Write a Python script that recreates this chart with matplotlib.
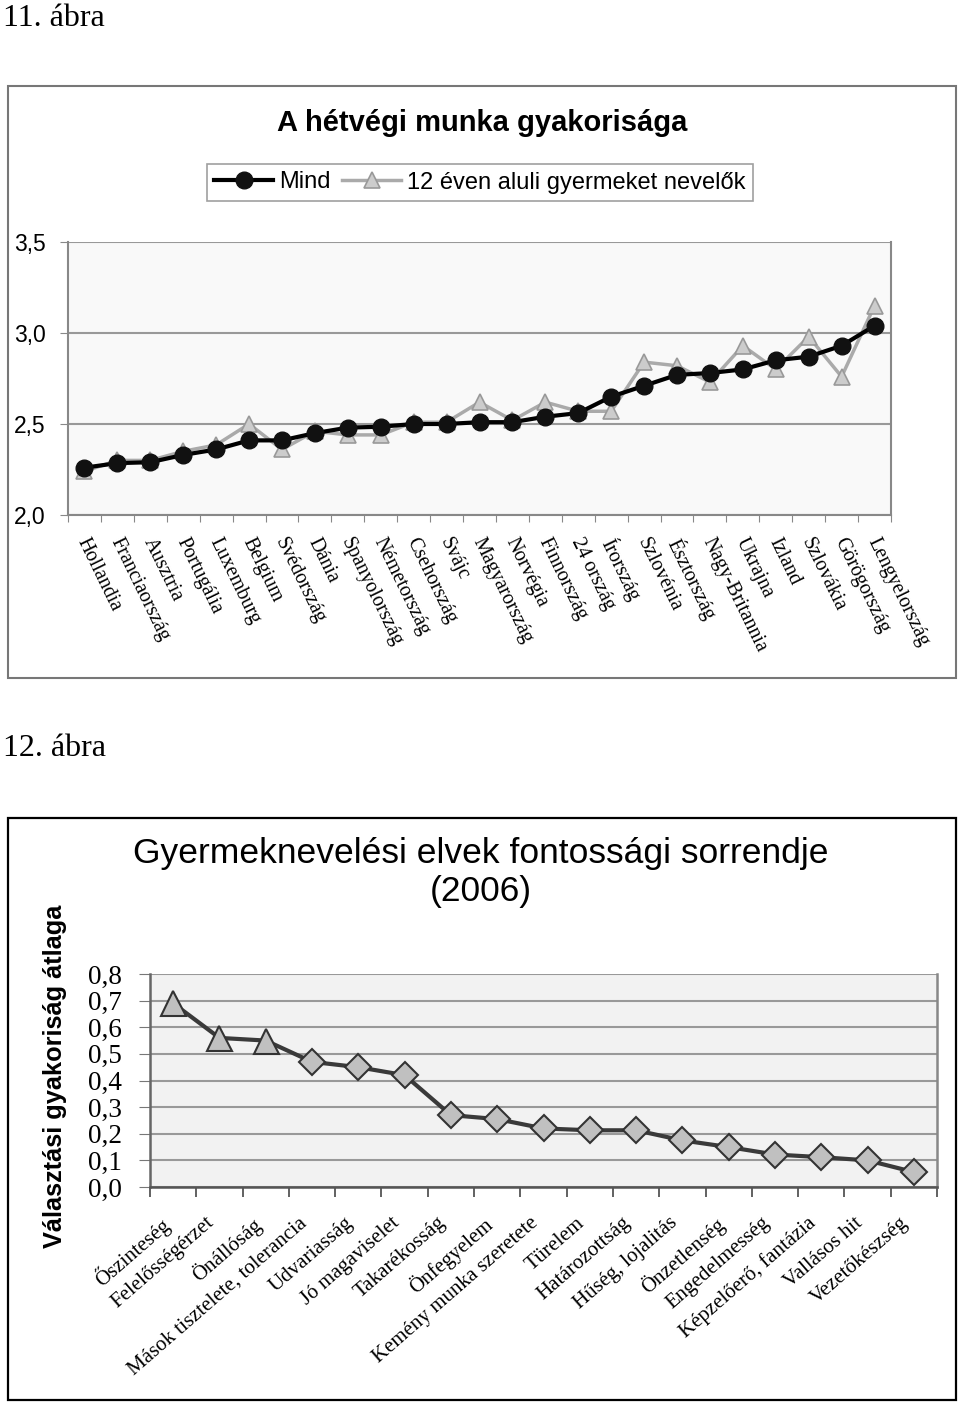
import numpy as np
import matplotlib.pyplot as plt
from matplotlib.patches import Rectangle
from matplotlib.ticker import FuncFormatter
from matplotlib.transforms import ScaledTranslation

# --- 11. ábra adatai ---
orszagok = ['Hollandia', 'Franciaország', 'Ausztria', 'Portugália', 'Luxemburg',
            'Belgium', 'Svédország', 'Dánia', 'Spanyolország', 'Németország',
            'Csehország', 'Svájc', 'Magyarország', 'Norvégia', 'Finnország',
            '24 ország', 'Írország', 'Szlovénia', 'Észtország', 'Nagy-Britannia',
            'Ukrajna', 'Izland', 'Szlovákia', 'Görögország', 'Lengyelország']
mind = [2.26, 2.285, 2.29, 2.33, 2.36, 2.41, 2.41, 2.45, 2.48, 2.485,
        2.50, 2.50, 2.51, 2.51, 2.54, 2.56, 2.65, 2.71, 2.77, 2.78,
        2.80, 2.85, 2.87, 2.93, 3.04]
gyerekes = [2.24, 2.30, 2.30, 2.35, 2.385, 2.50, 2.36, 2.46, 2.44, 2.44,
            2.51, 2.51, 2.62, 2.52, 2.62, 2.57, 2.57, 2.84, 2.82, 2.73,
            2.93, 2.80, 2.98, 2.76, 3.15]

# --- 12. ábra adatai ---
elvek = ['Őszinteség', 'Felelősségérzet', 'Önállóság', 'Mások tisztelete, tolerancia',
         'Udvariasság', 'Jó magaviselet', 'Takarékosság', 'Önfegyelem',
         'Kemény munka szeretete', 'Türelem', 'Határozottság', 'Hűség, lojalitás',
         'Önzetlenség', 'Engedelmesség', 'Képzelőerő, fantázia', 'Vallásos hit',
         'Vezetőkészség']
atlag = [0.69, 0.56, 0.55, 0.47, 0.45, 0.42, 0.27, 0.255, 0.22, 0.213,
         0.213, 0.175, 0.15, 0.122, 0.112, 0.10, 0.056]
n_haromszog = 3  # az első három pont háromszög jelölővel

W, H = 960, 1403
fig = plt.figure(figsize=(W / 100, H / 100), dpi=100)
serif = ['Liberation Serif', 'DejaVu Serif']
sans = ['Liberation Sans', 'DejaVu Sans']

def fx(px):
    return px / W

def fy(py):
    return 1 - py / H

comma = FuncFormatter(lambda v, p: f'{v:.1f}'.replace('.', ','))

# fejlécek
fig.text(fx(3), fy(18), '11. ábra', family=serif, fontsize=23, va='center', ha='left')
fig.text(fx(3), fy(748), '12. ábra', family=serif, fontsize=23, va='center', ha='left')

# keretek
fig.add_artist(Rectangle((fx(8), fy(678)), fx(948), (678 - 86) / H,
                         transform=fig.transFigure, fill=False, ec='#777777', lw=1.5))
fig.add_artist(Rectangle((fx(8), fy(1400)), fx(948), (1400 - 818) / H,
                         transform=fig.transFigure, fill=False, ec='black', lw=1.6))

# ===== felső grafikon =====
ax1 = fig.add_axes([fx(68), fy(515), fx(891 - 68), (515 - 242) / H])
ax1.set_facecolor('#f9f9f9')
x1 = np.arange(len(orszagok))
ax1.plot(x1, gyerekes, color='#aaaaaa', lw=2.5, marker='^', ms=11,
         mfc='#cccccc', mec='#999999', mew=1.2, label='12 éven aluli gyermeket nevelők', zorder=3)
ax1.plot(x1, mind, color='black', lw=3, marker='o', ms=12,
         mfc='#111111', mec='#111111', label='Mind', zorder=4)
ax1.set_xlim(-0.5, len(orszagok) - 0.5)
ax1.set_ylim(2.0, 3.5)
ax1.set_yticks([2.0, 2.5, 3.0, 3.5])
ax1.yaxis.set_major_formatter(comma)
ax1.yaxis.grid(True, color='#999999', lw=1.5)
ax1.set_axisbelow(True)
ax1.set_xticks(np.arange(len(orszagok) + 1) - 0.5)
ax1.set_xticklabels([])
ax1.set_xticks(x1, minor=True)
ax1.set_xticklabels(orszagok, minor=True, rotation=-64, ha='left', va='top',
                    rotation_mode='anchor', family=serif, fontsize=14.5)
ax1.tick_params(axis='x', which='minor', length=0, pad=14)
ax1.tick_params(axis='x', which='major', length=5, color='#888888')
ax1.tick_params(axis='y', length=6, color='#888888', labelsize=16.5, pad=10)
for lab in ax1.get_yticklabels():
    lab.set_family(sans)
# címkék kicsit jobbra, mint az eredetin
shift = ScaledTranslation(6 / 100, 0, fig.dpi_scale_trans)
for lab in ax1.get_xticklabels(minor=True):
    lab.set_transform(lab.get_transform() + shift)
for side in ['left', 'right', 'bottom']:
    ax1.spines[side].set_color('#888888')
    ax1.spines[side].set_linewidth(1.5)
ax1.spines['top'].set_visible(False)

fig.text(fx(482), fy(123), 'A hétvégi munka gyakorisága', family=sans,
         fontsize=21, fontweight='bold', ha='center', va='center')
h, l = ax1.get_legend_handles_labels()
leg = fig.legend(h[::-1], l[::-1], loc='center', bbox_to_anchor=(fx(480), fy(182.5)),
                 ncol=2, frameon=True, fancybox=False, edgecolor='#888888',
                 prop={'family': sans, 'size': 17}, handlelength=2.5,
                 columnspacing=0.5, borderpad=0.3, handletextpad=0.25,
                 borderaxespad=0)
leg.get_frame().set_linewidth(1.2)

# ===== alsó grafikon =====
ax2 = fig.add_axes([fx(150), fy(1187), fx(937 - 150), (1187 - 974) / H])
ax2.set_facecolor('#f2f2f2')
x2 = np.arange(len(elvek))
ax2.plot(x2, atlag, color='#3a3a3a', lw=3, zorder=3)
ax2.plot(x2[:n_haromszog], atlag[:n_haromszog], ls='none', marker='^', ms=18,
         mfc='#c0c0c0', mec='#333333', mew=1.5, zorder=4)
ax2.plot(x2[n_haromszog:], atlag[n_haromszog:], ls='none', marker='D', ms=13,
         mfc='#c0c0c0', mec='#333333', mew=1.5, zorder=4)
ax2.set_xlim(-0.5, len(elvek) - 0.5)
ax2.set_ylim(0, 0.8)
ax2.set_yticks(np.arange(0, 0.81, 0.1))
ax2.yaxis.set_major_formatter(comma)
ax2.yaxis.grid(True, color='#999999', lw=1.5)
ax2.set_axisbelow(True)
ax2.set_xticks(np.arange(len(elvek) + 1) - 0.5)
ax2.set_xticklabels([])
ax2.set_xticks(x2, minor=True)
ax2.set_xticklabels(elvek, minor=True, rotation=41, ha='right', va='top',
                    rotation_mode='anchor', family=serif, fontsize=15)
ax2.tick_params(axis='x', which='minor', length=0, pad=14)
ax2.tick_params(axis='x', which='major', length=7, color='#555555', width=1.3)
ax2.tick_params(axis='y', length=8, color='#777777', labelsize=19.5, pad=12)
for lab in ax2.get_yticklabels():
    lab.set_family(serif)
shift2 = ScaledTranslation(-14 / 100, -7 / 100, fig.dpi_scale_trans)
for lab in ax2.get_xticklabels(minor=True):
    lab.set_transform(lab.get_transform() + shift2)
ax2.spines['left'].set_color('#666666')
ax2.spines['bottom'].set_color('#555555')
ax2.spines['right'].set_color('#888888')
for side in ['left', 'bottom', 'right']:
    ax2.spines[side].set_linewidth(1.8)
ax2.spines['top'].set_visible(False)

fig.text(fx(481), fy(853), 'Gyermeknevelési elvek fontossági sorrendje',
         family=sans, fontsize=25.5, ha='center', va='center')
fig.text(fx(481), fy(891), '(2006)', family=sans, fontsize=25.5, ha='center', va='center')
fig.text(fx(55), fy(1076), 'Választási gyakoriság átlaga', family=sans, fontsize=18.3,
         fontweight='bold', rotation=90, ha='center', va='center')

fig.savefig('out.png', dpi=100)
